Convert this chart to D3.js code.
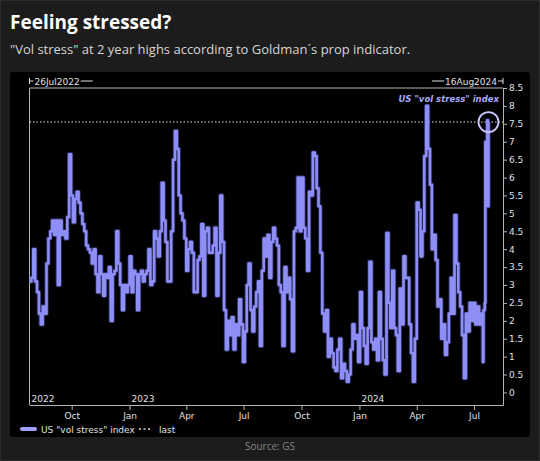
<!DOCTYPE html>
<html><head><meta charset="utf-8">
<script src="https://cdn.jsdelivr.net/npm/d3@7/dist/d3.min.js"></script>
<style>body{margin:0;background:#1c1c1c;}svg{display:block}</style>
</head><body>
<svg id="c" width="540" height="461"></svg>
<script>
// ---------------- data ----------------
const title = "Feeling stressed?";
const subtitle = "\"Vol stress\" at 2 year highs according to Goldman\u00b4s prop indicator.";
const seriesName = "US \"vol stress\" index";
const lastName = "last";
const sourceText = "Source: GS";
const startLabel = "26Jul2022";
const endLabel = "16Aug2024";
const domainDates = ["2022-07-26", "2024-08-16"];
const yDomain = [-0.35, 8.5];
const yTicks = [0, 0.5, 1, 1.5, 2, 2.5, 3, 3.5, 4, 4.5, 5, 5.5, 6, 6.5, 7, 7.5, 8, 8.5];
const yearLabels = ["2022", "2023", "2024"];
const yearDates = ["2022-07-26", "2023-01-01", "2024-01-01"];
const lastValue = 7.55;

const dates = [
"2022-07-26","2022-07-29","2022-08-01","2022-08-04","2022-08-07","2022-08-10","2022-08-13","2022-08-16","2022-08-19","2022-08-22",
"2022-08-25","2022-08-28","2022-08-31","2022-09-03","2022-09-06","2022-09-09","2022-09-12","2022-09-15","2022-09-18","2022-09-21",
"2022-09-24","2022-09-27","2022-09-30","2022-10-03","2022-10-06","2022-10-09","2022-10-12","2022-10-15","2022-10-18","2022-10-21",
"2022-10-24","2022-10-27","2022-10-30","2022-11-02","2022-11-05","2022-11-08","2022-11-11","2022-11-14","2022-11-17","2022-11-20",
"2022-11-23","2022-11-26","2022-11-29","2022-12-02","2022-12-05","2022-12-08","2022-12-11","2022-12-14","2022-12-17","2022-12-20",
"2022-12-23","2022-12-26","2022-12-29","2023-01-01","2023-01-04","2023-01-07","2023-01-10","2023-01-13","2023-01-16","2023-01-19",
"2023-01-22","2023-01-25","2023-01-28","2023-01-31","2023-02-03","2023-02-06","2023-02-09","2023-02-12","2023-02-15","2023-02-18",
"2023-02-21","2023-02-24","2023-02-27","2023-03-02","2023-03-05","2023-03-08","2023-03-11","2023-03-14","2023-03-17","2023-03-20",
"2023-03-23","2023-03-26","2023-03-29","2023-04-01","2023-04-04","2023-04-07","2023-04-10","2023-04-13","2023-04-16","2023-04-19",
"2023-04-22","2023-04-25","2023-04-28","2023-05-01","2023-05-04","2023-05-07","2023-05-10","2023-05-13","2023-05-16","2023-05-19",
"2023-05-22","2023-05-25","2023-05-28","2023-05-31","2023-06-03","2023-06-06","2023-06-09","2023-06-12","2023-06-15","2023-06-18",
"2023-06-21","2023-06-24","2023-06-27","2023-06-30","2023-07-03","2023-07-06","2023-07-09","2023-07-12","2023-07-15","2023-07-18",
"2023-07-21","2023-07-24","2023-07-27","2023-07-30","2023-08-02","2023-08-05","2023-08-08","2023-08-11","2023-08-14","2023-08-17",
"2023-08-20","2023-08-23","2023-08-26","2023-08-29","2023-09-01","2023-09-04","2023-09-07","2023-09-10","2023-09-13","2023-09-16",
"2023-09-19","2023-09-22","2023-09-25","2023-09-28","2023-10-01","2023-10-04","2023-10-07","2023-10-10","2023-10-13","2023-10-16",
"2023-10-19","2023-10-22","2023-10-25","2023-10-28","2023-10-31","2023-11-03","2023-11-06","2023-11-09","2023-11-12","2023-11-15",
"2023-11-18","2023-11-21","2023-11-24","2023-11-27","2023-11-30","2023-12-03","2023-12-06","2023-12-09","2023-12-12","2023-12-15",
"2023-12-18","2023-12-21","2023-12-24","2023-12-27","2023-12-30","2024-01-02","2024-01-05","2024-01-08","2024-01-11","2024-01-14",
"2024-01-17","2024-01-20","2024-01-23","2024-01-26","2024-01-29","2024-02-01","2024-02-04","2024-02-07","2024-02-10","2024-02-13",
"2024-02-16","2024-02-19","2024-02-22","2024-02-25","2024-02-28","2024-03-02","2024-03-05","2024-03-08","2024-03-11","2024-03-14",
"2024-03-17","2024-03-20","2024-03-23","2024-03-26","2024-03-29","2024-04-01","2024-04-04","2024-04-07","2024-04-10","2024-04-13",
"2024-04-16","2024-04-19","2024-04-22","2024-04-25","2024-04-28","2024-05-01","2024-05-04","2024-05-07","2024-05-10","2024-05-13",
"2024-05-16","2024-05-19","2024-05-22","2024-05-25","2024-05-28","2024-05-31","2024-06-03","2024-06-06","2024-06-09","2024-06-12",
"2024-06-15","2024-06-18","2024-06-21","2024-06-24","2024-06-27","2024-06-30","2024-07-03","2024-07-06","2024-07-09","2024-07-12",
"2024-07-15","2024-07-16","2024-07-18","2024-07-19","2024-07-21","2024-07-22","2024-07-23","2024-07-24"
];
const values = [
3.1,3.2,4.0,3.1,2.8,2.2,1.9,2.4,2.2,3.6,
4.3,4.5,4.8,4.4,4.8,3.0,4.8,4.4,4.5,4.3,
4.9,6.65,5.5,4.75,5.4,5.6,5.3,5.0,4.7,4.5,
4.1,4.0,3.9,3.6,4.0,3.3,2.8,3.8,3.3,2.7,
3.3,3.2,3.5,2.0,3.3,3.4,4.5,3.6,3.0,2.3,
3.0,2.8,3.0,3.8,2.8,3.4,3.3,2.3,3.3,3.4,
3.1,3.3,3.4,4.0,3.0,3.1,4.5,4.3,3.8,4.5,
5.85,4.8,4.2,3.1,3.1,4.5,6.5,7.3,6.8,5.5,
5.0,4.8,4.3,3.4,4.0,4.2,3.9,2.8,2.8,3.7,
3.8,4.7,2.7,4.5,4.6,3.9,3.9,4.1,4.6,2.7,
3.9,5.5,4.2,2.3,1.2,2.0,1.6,2.1,1.2,1.9,
1.6,2.6,1.9,0.85,1.7,3.0,3.6,2.3,1.7,2.4,
2.8,3.1,1.3,3.4,4.3,3.8,4.4,3.2,4.2,4.6,
4.3,4.1,3.0,2.8,1.3,3.5,2.8,3.2,2.6,1.15,
4.5,4.6,6.0,4.5,6.0,4.6,4.3,3.4,5.6,5.5,
6.7,6.6,5.7,5.2,3.9,2.2,1.7,2.3,1.0,1.5,
1.1,0.7,0.6,1.2,1.5,0.4,0.8,0.6,0.3,0.5,
1.2,1.9,1.5,1.6,0.85,2.8,1.8,1.3,0.8,1.8,
3.65,1.4,1.2,1.5,0.9,2.8,1.5,0.9,0.5,4.45,
2.5,1.8,3.4,1.8,1.6,0.6,2.9,1.9,3.8,3.2,
3.2,1.9,1.1,0.3,1.5,5.3,5.1,3.8,4.5,6.6,
8.0,6.8,5.8,4.0,4.4,3.7,2.4,2.6,1.5,1.9,
1.05,1.4,2.2,3.2,2.2,4.95,3.6,2.8,2.4,1.6,
0.4,2.2,1.7,2.5,2.0,2.5,1.9,2.4,1.9,2.2,
0.85,2.3,2.5,7.0,6.9,7.6,5.2,7.55
];

// ---------------- drawing ----------------
const W = 540, H = 461;
const plot = {left: 29.5, right: 503, top: 88, bottom: 405};
const parse = d3.timeParse("%Y-%m-%d");
const data = dates.map((d, i) => ({date: parse(d), value: values[i]}));

const svg = d3.select("#c");
const chartFont = "'DejaVu Sans', sans-serif";
const lav = "#8e8ef7";

// background + panel
svg.append("rect").attr("x", 0.5).attr("y", 0.5).attr("width", W - 1).attr("height", H - 1)
  .attr("fill", "#1c1c1c").attr("stroke", "#2c2c2c");
svg.append("rect").attr("x", 10).attr("y", 72).attr("width", 520).attr("height", 365)
  .attr("rx", 3).attr("fill", "#000");

// titles
svg.append("text").attr("x", 10).attr("y", 29).text(title)
  .attr("font-family", "'Open Sans', sans-serif").attr("font-weight", 700)
  .attr("font-size", 19).attr("fill", "#fff");
svg.append("text").attr("x", 10).attr("y", 54).text(subtitle)
  .attr("font-family", "'Open Sans', sans-serif").attr("font-size", 13).attr("fill", "#d6d6d6");

// scales
const x = d3.scaleTime().domain(domainDates.map(parse)).range([plot.left, plot.right]);
const y = d3.scaleLinear().domain(yDomain).range([plot.bottom, plot.top]);

// frame
const frameColor = "#b5b5b5";
svg.append("path")
  .attr("d", `M${plot.left},${plot.bottom}V${plot.top}H${plot.right}`)
  .attr("fill", "none").attr("stroke", frameColor).attr("stroke-width", 1);

// bottom axis
const xAxis = d3.axisBottom(x).ticks(d3.timeMonth.every(3)).tickFormat(d3.timeFormat("%b"))
  .tickSizeInner(5).tickSizeOuter(0).tickPadding(3);
const gx = svg.append("g").attr("transform", `translate(0,${plot.bottom})`).call(xAxis);
gx.select(".domain").attr("stroke", frameColor);
gx.selectAll(".tick line").attr("stroke", frameColor);
gx.selectAll(".tick text").attr("fill", "#e0e0e0").attr("font-family", chartFont).attr("font-size", 9);

// right axis
const yAxis = d3.axisRight(y).tickValues(yTicks).tickFormat(d3.format("~g"))
  .tickSizeInner(4).tickSizeOuter(0).tickPadding(2);
const gy = svg.append("g").attr("transform", `translate(${plot.right},0)`).call(yAxis);
gy.select(".domain").attr("stroke", frameColor);
gy.selectAll(".tick line").attr("stroke", frameColor);
gy.selectAll(".tick text").attr("fill", "#e0e0e0").attr("font-family", chartFont).attr("font-size", 9);

// year labels inside plot
svg.append("g").selectAll("text").data(yearLabels).join("text")
  .attr("x", (d, i) => x(parse(yearDates[i])) + 2)
  .attr("y", plot.bottom - 3)
  .text(d => d)
  .attr("font-family", chartFont).attr("font-size", 9).attr("fill", "#e0e0e0");

// header date brackets
const hy = 81;
const hdr = svg.append("g").attr("font-family", chartFont).attr("font-size", 9).attr("fill", "#e0e0e0");
const sTxt = hdr.append("text").attr("x", plot.left + 5).attr("y", hy + 3.5).text(startLabel);
const sW = sTxt.node().getComputedTextLength();
hdr.append("path").attr("d", `M${plot.left},${hy - 3}V${hy + 3}M${plot.left},${hy}H${plot.left + 4}M${plot.left + 6 + sW},${hy}H${plot.left + 18 + sW}`)
  .attr("stroke", "#e0e0e0").attr("fill", "none");
const eTxt = hdr.append("text").attr("x", plot.right - 6).attr("y", hy + 3.5).attr("text-anchor", "end").text(endLabel);
const eW = eTxt.node().getComputedTextLength();
hdr.append("path").attr("d", `M${plot.right},${hy - 3}V${hy + 3}M${plot.right},${hy}H${plot.right - 5}M${plot.right - 7 - eW},${hy}H${plot.right - 19 - eW}`)
  .attr("stroke", "#e0e0e0").attr("fill", "none");

// last dotted line
svg.append("line").attr("x1", plot.left).attr("x2", plot.right)
  .attr("y1", y(lastValue)).attr("y2", y(lastValue))
  .attr("stroke", "#e8e8e8").attr("stroke-width", 1).attr("stroke-dasharray", "1.5,2");

// series line (daily-style steps)
const line = d3.line().x(d => x(d.date)).y(d => y(d.value)).curve(d3.curveStepAfter);
svg.append("path").datum(data).attr("d", line).attr("fill", "none")
  .attr("stroke", "#5f5fd0").attr("stroke-opacity", 0.45).attr("stroke-width", 4.4).attr("stroke-linejoin", "round");
svg.append("path").datum(data).attr("d", line).attr("fill", "none")
  .attr("stroke", lav).attr("stroke-width", 2.6).attr("stroke-linejoin", "round");

// circle on last point
const last = data[data.length - 1];
svg.append("circle").attr("cx", x(last.date)).attr("cy", y(last.value)).attr("r", 10)
  .attr("fill", "none").attr("stroke", "#c8c8ff").attr("stroke-width", 1.8);

// series annotation
svg.append("text").attr("x", plot.right - 4).attr("y", 102).attr("text-anchor", "end")
  .text(seriesName).attr("font-family", chartFont).attr("font-size", 8.5)
  .attr("font-style", "italic").attr("font-weight", 700).attr("fill", "#a9a9ff");

// legend
const ly = 429;
svg.append("line").attr("x1", 22).attr("x2", 35).attr("y1", ly).attr("y2", ly)
  .attr("stroke", "#a0a0fa").attr("stroke-width", 4).attr("stroke-linecap", "round");
svg.append("text").attr("x", 41).attr("y", ly + 3.5).text(seriesName)
  .attr("font-family", chartFont).attr("font-size", 9).attr("fill", "#e0e0e0");
svg.append("line").attr("x1", 139).attr("x2", 152).attr("y1", ly).attr("y2", ly)
  .attr("stroke", "#e0e0e0").attr("stroke-width", 1.3).attr("stroke-dasharray", "2,2.5");
svg.append("text").attr("x", 159).attr("y", ly + 3.5).text(lastName)
  .attr("font-family", chartFont).attr("font-size", 9).attr("fill", "#e0e0e0");

// source
svg.append("text").attr("x", 270).attr("y", 450).attr("text-anchor", "middle").text(sourceText)
  .attr("font-family", "'Open Sans', sans-serif").attr("font-size", 10).attr("fill", "#858585");
</script>
</body></html>
